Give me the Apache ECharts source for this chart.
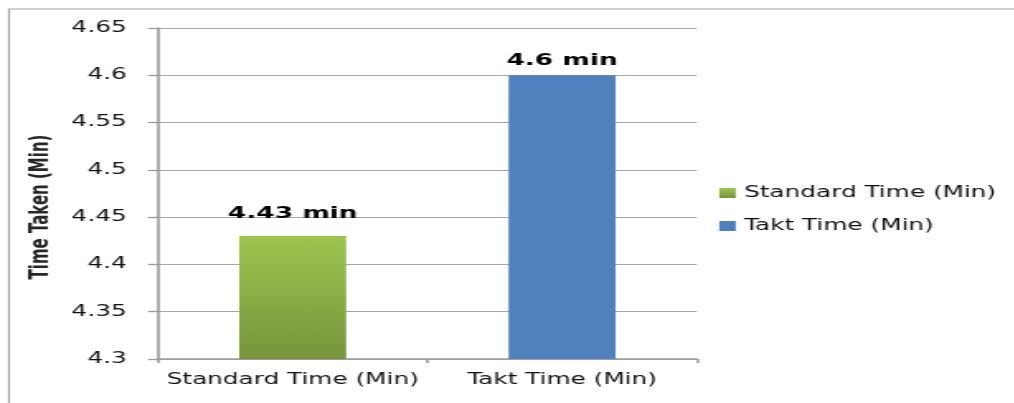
<!DOCTYPE html>
<html>
<head>
<meta charset="utf-8">
<script src="https://cdn.jsdelivr.net/npm/echarts@6/dist/echarts.min.js"></script>
<style>
html,body{margin:0;padding:0;background:#fff;overflow:hidden;width:1014px;height:403px;}
#c{position:absolute;left:0;top:0;height:403px;transform-origin:0 0;}
</style>
</head>
<body>
<div id="c"></div>
<script>
// ---- data ----
const categories = ['Standard Time (Min)', 'Takt Time (Min)'];
const seriesNames = ['Standard Time (Min)', 'Takt Time (Min)'];
const standardTime = [4.43, null];
const taktTime = [null, 4.6];
const yMin = 4.3, yMax = 4.65, yInterval = 0.05;
const yAxisTitle = 'Time Taken (Min)';
const valueSuffix = ' min';

// ---- layout (the reference image is horizontally stretched) ----
const S = 1.65;
const W = 1014 / S;
const el = document.getElementById('c');
el.style.width = W + 'px';
el.style.transform = 'scaleX(' + S + ')';

const FONT = '"DejaVu Sans", Verdana, sans-serif';
const chart = echarts.init(el, null, {renderer: 'canvas'});

const green = new echarts.graphic.LinearGradient(0, 0, 0, 1, [
  {offset: 0, color: '#9dc54f'},
  {offset: 1, color: '#76953a'}
]);

chart.setOption({
  animation: false,
  backgroundColor: '#fff',
  graphic: [
    {type: 'rect', shape: {x: 9 / S, y: 9, width: W + 20, height: 500},
     style: {fill: 'none', stroke: '#a6a6a6', lineWidth: 1.2}, silent: true},
    {type: 'text', x: 42 / S, y: 207, rotation: Math.PI / 2,
     style: {text: yAxisTitle, font: 'bold 15px ' + FONT, fill: '#262626',
             textAlign: 'center', textVerticalAlign: 'middle'}}
  ],
  grid: {left: 158 / S, right: W - 696 / S, top: 28, bottom: 44, containLabel: false},
  legend: {
    orient: 'vertical', left: 711 / S, top: 178,
    itemWidth: 10, itemHeight: 10, itemGap: 13, icon: 'rect',
    textStyle: {fontFamily: FONT, fontSize: 15, color: '#111', lineHeight: 20},
    data: seriesNames
  },
  xAxis: {
    type: 'category', data: categories,
    axisLine: {lineStyle: {color: '#9a9a9a', width: 1.6}},
    axisTick: {show: true, length: 4, lineStyle: {color: '#9a9a9a', width: 1.6}},
    axisLabel: {interval: 0, margin: 14, fontFamily: FONT, fontSize: 15, color: '#111'}
  },
  yAxis: {
    type: 'value', min: yMin, max: yMax, interval: yInterval,
    axisLine: {show: true, lineStyle: {color: '#9a9a9a', width: 1.6}},
    axisTick: {show: true, length: 6, lineStyle: {color: '#9a9a9a', width: 1.3}},
    splitLine: {lineStyle: {color: '#a6a6a6', width: 1}},
    axisLabel: {margin: 19, fontFamily: FONT, fontSize: 15, color: '#111',
                formatter: v => String(+v.toFixed(2))}
  },
  series: [
    {name: seriesNames[0], type: 'bar', data: standardTime, barWidth: 107 / S, barGap: '-100%',
     itemStyle: {color: green},
     label: {show: true, position: 'top', distance: 14, color: '#000',
             fontFamily: FONT, fontWeight: 'bold', fontSize: 16,
             formatter: p => p.value + valueSuffix}},
    {name: seriesNames[1], type: 'bar', data: taktTime, barWidth: 107 / S, barGap: '-100%',
     itemStyle: {color: '#4f81bd'},
     label: {show: true, position: 'top', distance: 6, color: '#000',
             fontFamily: FONT, fontWeight: 'bold', fontSize: 16,
             formatter: p => p.value + valueSuffix}}
  ]
});
</script>
</body>
</html>
